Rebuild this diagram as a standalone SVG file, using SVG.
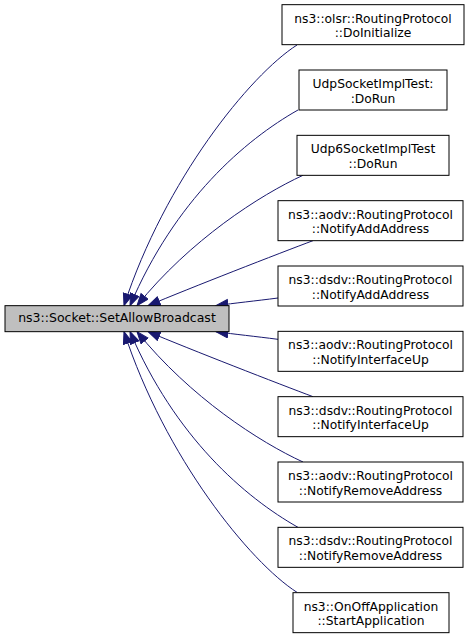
<svg xmlns="http://www.w3.org/2000/svg" width="475" height="639" viewBox="0 0 475 639">
<style>
.node rect{fill:#ffffff;stroke:#000000;stroke-width:1}
.main rect{fill:#bfbfbf;stroke:#000000;stroke-width:1}
text{font-family:"DejaVu Sans","Liberation Sans",sans-serif;font-size:12.3px;fill:#000000;text-anchor:middle}
.main text{font-size:12.5px}
.edges path{fill:none;stroke:#191970;stroke-width:1;marker-end:url(#arrow)}
</style>
<defs>
<marker id="arrow" markerUnits="userSpaceOnUse" markerWidth="14" markerHeight="11" refX="12.5" refY="5" orient="auto">
<path d="M0.5,0.5 L12.5,5 L0.5,9.5 Z" fill="#191970" stroke="#191970" stroke-width="1"/>
</marker>
</defs>
<rect x="0" y="0" width="475" height="639" fill="#ffffff"/>
<g id="edges" class="edges">
<path d="M297,45 C250,75 165,180 124,305.67"/>
<path d="M298,110 C245,140 175,200 130,305.67"/>
<path d="M303,175.3 C260,195 190,240 137,305.67"/>
<path d="M313,240.67 C280,253 190,288 148,305.67"/>
<path d="M278,298 C255,301 235,303 216,305.67"/>
<path d="M278,339.33 C255,336.33 235,334.33 216,331.67"/>
<path d="M313,396.67 C280,384.33 190,349.33 148,331.67"/>
<path d="M303,462 C260,442.33 190,397.33 137,331.67"/>
<path d="M298,527.33 C245,497.33 175,437.33 130,331.67"/>
<path d="M297,592.33 C250,562.33 165,457.33 124,331.67"/>
</g>
<g id="main" class="main">
<rect x="5" y="305.67" width="224" height="26"/>
<text x="117" y="322.3">ns3::Socket::SetAllowBroadcast</text>
</g>
<g id="n1" class="node">
<rect x="282" y="4.67" width="182" height="40"/>
<text x="373" y="22.67">ns3::olsr::RoutingProtocol</text>
<text x="373" y="37.17">::DoInitialize</text>
</g>
<g id="n2" class="node">
<rect x="299" y="70" width="148" height="40"/>
<text x="373" y="88">UdpSocketImplTest:</text>
<text x="373" y="102.5">:DoRun</text>
</g>
<g id="n3" class="node">
<rect x="297" y="135.33" width="152" height="40"/>
<text x="373" y="153.33">Udp6SocketImplTest</text>
<text x="373" y="167.83">::DoRun</text>
</g>
<g id="n4" class="node">
<rect x="278" y="200.67" width="185" height="40"/>
<text x="370.5" y="218.67">ns3::aodv::RoutingProtocol</text>
<text x="370.5" y="233.17">::NotifyAddAddress</text>
</g>
<g id="n5" class="node">
<rect x="278" y="266" width="185" height="40"/>
<text x="370.5" y="284">ns3::dsdv::RoutingProtocol</text>
<text x="370.5" y="298.5">::NotifyAddAddress</text>
</g>
<g id="n6" class="node">
<rect x="278" y="331.33" width="185" height="40"/>
<text x="370.5" y="349.33">ns3::aodv::RoutingProtocol</text>
<text x="370.5" y="363.83">::NotifyInterfaceUp</text>
</g>
<g id="n7" class="node">
<rect x="278" y="396.67" width="185" height="40"/>
<text x="370.5" y="414.67">ns3::dsdv::RoutingProtocol</text>
<text x="370.5" y="429.17">::NotifyInterfaceUp</text>
</g>
<g id="n8" class="node">
<rect x="278" y="462" width="185" height="40"/>
<text x="370.5" y="480">ns3::aodv::RoutingProtocol</text>
<text x="370.5" y="494.5">::NotifyRemoveAddress</text>
</g>
<g id="n9" class="node">
<rect x="278" y="527.33" width="185" height="40"/>
<text x="370.5" y="545.33">ns3::dsdv::RoutingProtocol</text>
<text x="370.5" y="559.83">::NotifyRemoveAddress</text>
</g>
<g id="n10" class="node">
<rect x="293" y="592.67" width="156" height="40"/>
<text x="371" y="610.67">ns3::OnOffApplication</text>
<text x="371" y="625.17">::StartApplication</text>
</g>
</svg>
